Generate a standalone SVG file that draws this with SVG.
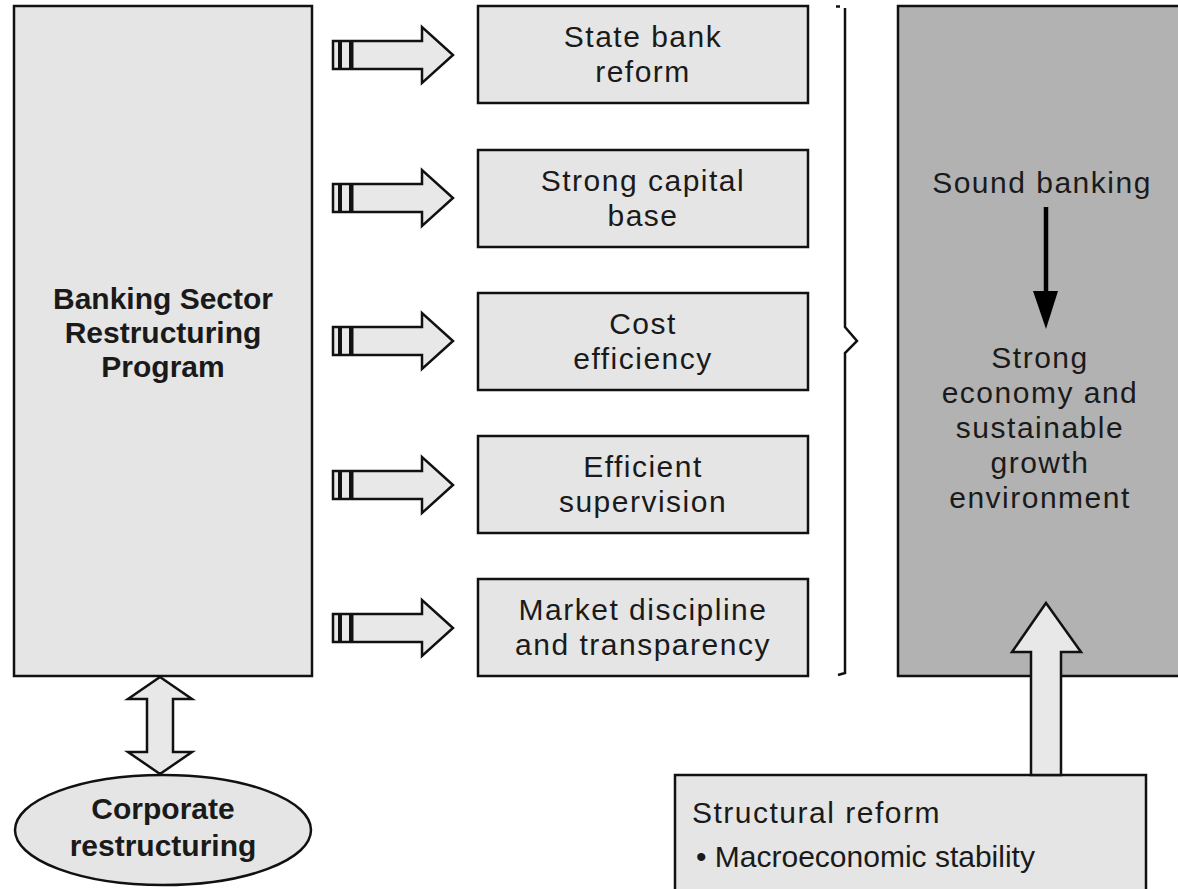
<svg xmlns="http://www.w3.org/2000/svg" width="1178" height="889" viewBox="0 0 1178 889">
<style>
.lt{fill:#e5e5e5;stroke:#111;stroke-width:2.5}
.dk{fill:#b2b2b2;stroke:#111;stroke-width:2.5}
.ha{fill:#e8e8e8;stroke:#111;stroke-width:2.5;stroke-linejoin:miter}
.t{font-family:"Liberation Sans",Arial,sans-serif;font-size:30px;fill:#1a1a1a;letter-spacing:1.5px}
.c{text-anchor:middle}
.b{font-weight:bold;letter-spacing:0px}
</style>
<defs>
<g id="harrow">
<path class="ha" d="M333,-14 H422 V-28 L453,0 L422,28 V14 H333 Z"/>
<rect x="338" y="-13" width="4" height="26" fill="#111"/>
<rect x="349" y="-13" width="4.5" height="26" fill="#111"/>
</g>
</defs>
<rect width="1178" height="889" fill="#fff"/>

<g id="banking-program">
<rect class="lt" x="14" y="6" width="298" height="670"/>
<text class="t c b" x="163" y="309">Banking Sector</text>
<text class="t c b" x="163" y="343">Restructuring</text>
<text class="t c b" x="163" y="377">Program</text>
</g>

<g id="corporate">
<ellipse class="lt" cx="163" cy="830" rx="148" ry="55"/>
<text class="t c b" x="163" y="819">Corporate</text>
<text class="t c b" x="163" y="856">restructuring</text>
</g>

<g id="state-bank">
<rect class="lt" x="478" y="6" width="330" height="97"/>
<text class="t c" x="643" y="47">State bank</text>
<text class="t c" x="643" y="82">reform</text>
</g>
<g id="capital">
<rect class="lt" x="478" y="150" width="330" height="97"/>
<text class="t c" x="643" y="191">Strong capital</text>
<text class="t c" x="643" y="226">base</text>
</g>
<g id="cost">
<rect class="lt" x="478" y="293" width="330" height="97"/>
<text class="t c" x="643" y="334">Cost</text>
<text class="t c" x="643" y="369">efficiency</text>
</g>
<g id="supervision">
<rect class="lt" x="478" y="436" width="330" height="97"/>
<text class="t c" x="643" y="477">Efficient</text>
<text class="t c" x="643" y="512">supervision</text>
</g>
<g id="market">
<rect class="lt" x="478" y="579" width="330" height="97"/>
<text class="t c" x="643" y="620">Market discipline</text>
<text class="t c" x="643" y="655">and transparency</text>
</g>

<g id="outcome">
<rect class="dk" x="898" y="6" width="290" height="670"/>
<text class="t c" x="1042" y="193">Sound banking</text>
<text class="t c" x="1040" y="368">Strong</text>
<text class="t c" x="1040" y="403">economy and</text>
<text class="t c" x="1040" y="438">sustainable</text>
<text class="t c" x="1040" y="473">growth</text>
<text class="t c" x="1040" y="508">environment</text>
</g>

<g id="structural">
<rect class="lt" x="675" y="775" width="471" height="120"/>
<text class="t" x="692" y="823">Structural reform</text>
<text class="t" x="696" y="867" style="letter-spacing:0">• Macroeconomic stability</text>
</g>

<g id="connectors">
<use href="#harrow" y="55"/>
<use href="#harrow" y="198"/>
<use href="#harrow" y="341"/>
<use href="#harrow" y="485"/>
<use href="#harrow" y="628"/>
<path class="ha" d="M160,677 L192,699 H173 V752 H192 L160,774 L128,752 H147 V699 H128 Z"/>
<path d="M836,6.5 H840 M845,8 V327 L857,341 L845,353 V673 L838,675" fill="none" stroke="#111" stroke-width="2.5"/>
<line x1="1046" y1="207" x2="1046" y2="295" stroke="#000" stroke-width="4.5"/>
<path d="M1033,291 H1058 L1046,329 Z" fill="#000"/>
<path class="ha" d="M1046,603 L1081,652 H1061 V775 H1031 V652 H1012 Z"/>
</g>
</svg>
